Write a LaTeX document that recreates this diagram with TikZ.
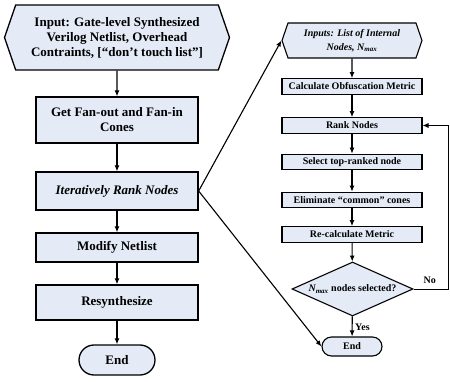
\documentclass[tikz,border=0pt]{standalone}
\usepackage{fontspec}
\setmainfont{Liberation Serif}
\usepackage{xcolor}
\usepackage{tikz}
\usetikzlibrary{shapes.symbols}
\usetikzlibrary{shapes.geometric}
\usetikzlibrary{arrows.meta}
\usetikzlibrary{positioning}

\definecolor{boxfill}{RGB}{228,235,246}

\tikzset{
	bigbox/.style={draw,line width=1.3pt,fill=boxfill,minimum width=162pt,inner sep=0pt,align=center,font=\fontsize{13}{15}\selectfont\bfseries},
	smallbox/.style={draw,line width=1.1pt,fill=boxfill,minimum width=140pt,minimum height=15.5pt,inner sep=0pt,align=center,font=\fontsize{10}{12}\selectfont\bfseries},
	hexbox/.style={signal,signal to=west and east,signal pointer angle=142},
	flow/.style={-{Latex[length=6pt,width=5pt]},line width=1.1pt},
	label text/.style={font=\fontsize{10}{12}\selectfont\bfseries,inner sep=0pt}
}

\begin{document}
\begin{tikzpicture}[x=1pt,y=-1pt]
	\useasboundingbox (0,0) rectangle (450,382);
	
	\node[bigbox,hexbox,minimum width=225pt,minimum height=65pt] (input) at (117,37.5) {Input: Gate-level Synthesized\\Verilog Netlist, Overhead\\Contraints, [“don’t touch list”]};
	\node[bigbox,minimum height=46pt] (cones) at (117,120) {Get Fan-out and Fan-in\\Cones};
	\node[bigbox,minimum height=38pt,font=\fontsize{13}{15}\selectfont\bfseries\itshape] (rank) at (117,191) {Iteratively Rank Nodes};
	\node[bigbox,minimum height=29pt] (modify) at (117,247.5) {Modify Netlist};
	\node[bigbox,minimum height=35pt] (resynth) at (117,302.5) {Resynthesize};
	\node[bigbox,rounded corners=15pt,minimum width=76pt,minimum height=30pt] (finish) at (117,360) {End};
	
	\draw[flow] (input) -- (cones);
	\draw[flow] (cones) -- (rank);
	\draw[flow] (rank) -- (modify);
	\draw[flow] (modify) -- (resynth);
	\draw[flow] (resynth) -- (finish);
	
	\node[smallbox,hexbox,minimum height=35pt,font=\fontsize{10}{14}\selectfont\bfseries\itshape] (inputs) at (352,40.5) {Inputs: List of Internal\\Nodes, N\textsubscript{max}};
	\node[smallbox] (metric) at (352,86.5) {Calculate Obfuscation Metric};
	\node[smallbox] (ranknodes) at (352,125.5) {Rank Nodes};
	\node[smallbox] (select) at (352,162) {Select top-ranked node};
	\node[smallbox] (elim) at (352,200) {Eliminate “common” cones};
	\node[smallbox] (recalc) at (352,234.5) {Re-calculate Metric};
	\node[smallbox,diamond,minimum width=121pt,minimum height=54pt,aspect=2.24] (check) at (352.5,289) {\textit{N\textsubscript{max}} nodes selected?};
	\node[smallbox,rounded corners=9.5pt,minimum width=60pt,minimum height=19pt] (stop) at (352,346.5) {End};
	
	\draw[flow] (inputs) -- (metric);
	\draw[flow] (metric) -- (ranknodes);
	\draw[flow] (ranknodes) -- (select);
	\draw[flow] (select) -- (elim);
	\draw[flow] (elim) -- (recalc);
	\draw[flow] (recalc) -- (check);
	\draw[flow] (check) -- (stop);
	
	\coordinate (loop) at (448,289);
	\draw[flow,line width=0.8pt] (check.east) -- (loop) |- (ranknodes.east);
	\node[label text,above left=5pt and 12pt of loop] (no) {No};
	\node[label text,anchor=west] (yes) at (355,327) {Yes};
	
	\draw[flow] (rank.east) -- (inputs.west);
	\draw[flow] (rank.east) -- (stop.west);
\end{tikzpicture}
\end{document}
